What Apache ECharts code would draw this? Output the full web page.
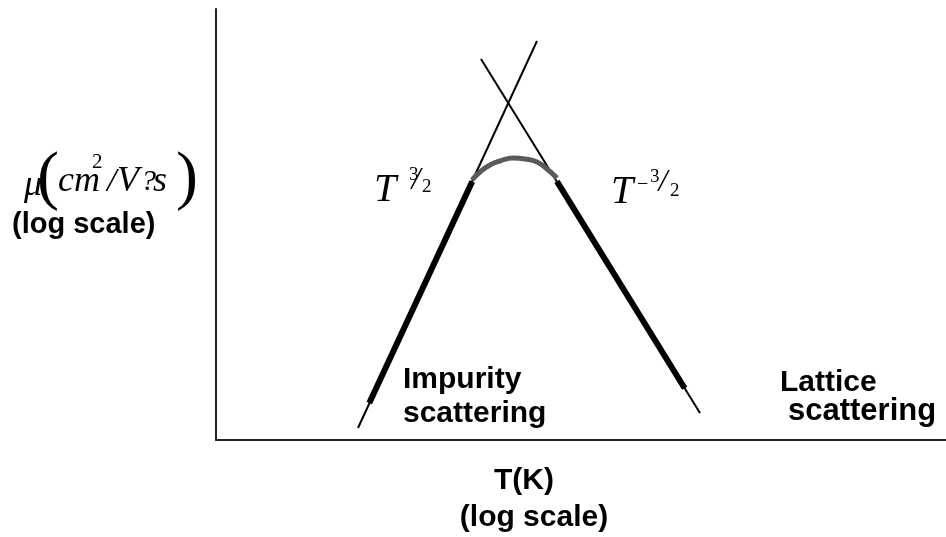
<!DOCTYPE html>
<html>
<head>
<meta charset="utf-8">
<title>Mobility vs temperature</title>
<script src="https://cdn.jsdelivr.net/npm/echarts@6/dist/echarts.min.js"></script>
<style>
  html, body { margin: 0; padding: 0; background: #fff; }
  #chart { width: 946px; height: 537px; }
</style>
</head>
<body>
<div id="chart"></div>
<script>
// schematic units: x ~ log T, y ~ log mu (0..10 on both axes)
const impurityLine = [[1.945, 0.278], [4.397, 9.258]];
const latticeLine = [[3.630, 8.840], [6.630, 0.626]];
const impurityBold = [[2.10, 0.86], [3.51, 6.00]];
const latticeBold = [[4.67, 6.00], [6.42, 1.20]];
const crossoverArc = [
  [3.507, 6.032], [3.616, 6.218], [3.753, 6.381], [3.890, 6.473], [4.068, 6.543],
  [4.233, 6.520], [4.397, 6.450], [4.534, 6.288], [4.671, 6.079]
];

const sans = "'Liberation Sans', Arial, sans-serif";
const serif = "'Liberation Serif', 'Times New Roman', serif";

function txt(x, y, text, size, opts) {
  opts = opts || {};
  return {
    type: "text",
    x: x,
    y: y,
    style: {
      text: text,
      fill: "#000",
      font: (opts.italic ? "italic " : "") + (opts.bold ? "bold " : "") + size + "px " + (opts.family || sans),
      align: opts.align || "left",
      verticalAlign: "middle",
    },
  };
}

function lineSeries(data, width, color, smooth) {
  return {
    type: "line",
    data: data,
    smooth: smooth || false,
    showSymbol: false,
    silent: true,
    lineStyle: { color: color, width: width, cap: "butt" },
  };
}

const chart = echarts.init(document.getElementById("chart"));
chart.setOption({
  animation: false,
  grid: { left: 216, right: 0, top: 9, bottom: 97 },
  xAxis: {
    type: "value",
    min: 0,
    max: 10,
    axisLine: { show: true, onZero: false, lineStyle: { color: "#222", width: 2 } },
    axisTick: { show: false },
    axisLabel: { show: false },
    splitLine: { show: false },
  },
  yAxis: {
    type: "value",
    min: 0,
    max: 10,
    axisLine: { show: true, onZero: false, lineStyle: { color: "#222", width: 2 } },
    axisTick: { show: false },
    axisLabel: { show: false },
    splitLine: { show: false },
  },
  series: [
    lineSeries(impurityLine, 2, "#000"),
    lineSeries(latticeLine, 2, "#000"),
    lineSeries(impurityBold, 6, "#000"),
    lineSeries(latticeBold, 6, "#000"),
    lineSeries(crossoverArc, 5, "#5a5a5a", 0.5),
  ],
  graphic: [
    // y axis title
    txt(24, 186, "μ", 36, { italic: true, family: serif }),
    txt(37, 180, "(", 66, { family: serif }),
    txt(58, 182, "cm", 36, { italic: true, family: serif }),
    txt(92, 162, "2", 21, { family: serif }),
    txt(107, 182, "/", 34, { italic: true, family: serif }),
    txt(117, 182, "V", 36, { italic: true, family: serif }),
    txt(141, 182, "?", 30, { italic: true, family: serif }),
    txt(153, 182, "s", 36, { italic: true, family: serif }),
    txt(176, 180, ")", 66, { family: serif }),
    txt(12, 225, "(log scale)", 29, { bold: true }),
    // exponents
    txt(374, 190, "T", 40, { italic: true, family: serif }),
    txt(409, 175, "3", 19, { family: serif }),
    txt(416, 181, "/", 32, { italic: true, family: serif, align: "center" }),
    txt(422, 187, "2", 19, { family: serif }),
    txt(611, 192, "T", 40, { italic: true, family: serif }),
    txt(637, 185, "−", 20, { family: serif }),
    txt(650, 177, "3", 19, { family: serif }),
    txt(663, 183, "/", 32, { italic: true, family: serif, align: "center" }),
    txt(670, 191, "2", 19, { family: serif }),
    // region labels
    txt(403, 380, "Impurity", 30, { bold: true }),
    txt(403, 414, "scattering", 30, { bold: true }),
    txt(780, 383, "Lattice", 30, { bold: true }),
    txt(788, 411, "scattering", 31, { bold: true }),
    // x axis title
    txt(524, 481, "T(K)", 30, { bold: true, align: "center" }),
    txt(534, 518, "(log scale)", 30, { bold: true, align: "center" }),
  ],
});
window.addEventListener("resize", () => chart.resize());
</script>
</body>
</html>
